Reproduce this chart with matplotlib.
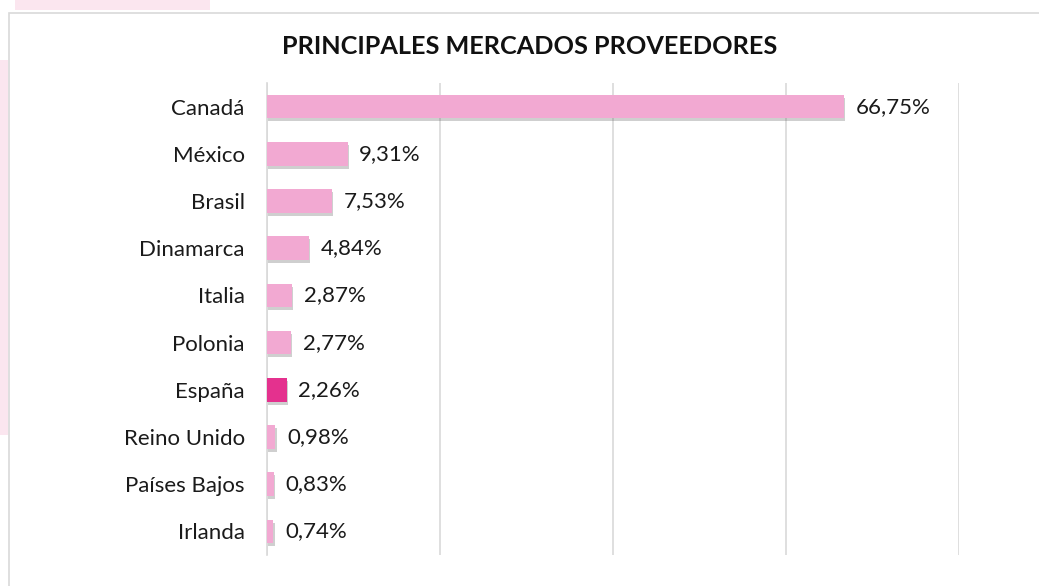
import matplotlib
matplotlib.use("Agg")
import matplotlib.pyplot as plt
import matplotlib.patheffects as pe
from matplotlib.patches import Rectangle

categories = ["Canadá", "México", "Brasil", "Dinamarca", "Italia", "Polonia",
              "España", "Reino Unido", "Países Bajos", "Irlanda"]
values = [66.75, 9.31, 7.53, 4.84, 2.87, 2.77, 2.26, 0.98, 0.83, 0.74]
highlight = "España"
title = "PRINCIPALES MERCADOS PROVEEDORES"

base_color = "#F2A9D2"
hi_color = "#E4318E"

plt.rcParams['font.family'] = ['Lato', 'DejaVu Sans']

fig = plt.figure(figsize=(10.39, 5.86), dpi=100)
W, H = 1039, 586

# faint pink background patches outside the chart frame
fig.patches.append(Rectangle((15 / W, 1 - 10 / H), 195 / W, 10 / H, transform=fig.transFigure,
                             facecolor="#FBE6EF", edgecolor="none", zorder=-3))
fig.patches.append(Rectangle((0, 1 - 435 / H), 8 / W, 375 / H, transform=fig.transFigure,
                             facecolor="#FBE6EF", edgecolor="none", zorder=-3))
# chart frame
fig.patches.append(Rectangle((8.5 / W, -0.01), 1.1, 1 - 12.5 / H + 0.01, transform=fig.transFigure,
                             facecolor="white", edgecolor="#D9D9D9", linewidth=1.2, zorder=-2))

ax = fig.add_axes([267 / W, 1 - 555 / H, (959 - 267) / W, (555 - 83) / H])
ax.set_facecolor("none")

y = list(range(len(categories)))
colors = [hi_color if c == highlight else base_color for c in categories]
bars = ax.barh(y, values, height=0.5, color=colors, zorder=3)
for b in bars:
    b.set_path_effects([pe.SimplePatchShadow(offset=(0.8, -2.2), shadow_rgbFace="#555555", alpha=0.28),
                        pe.Normal()])

for yi, v in zip(y, values):
    ax.text(v + 1.35, yi, f"{v:.2f}".replace(".", ",") + "%", va="center", ha="left",
            fontsize=16, color="#1a1a1a", zorder=4)

ax.set_xlim(0, 80)
ax.set_xticks([0, 20, 40, 60, 80])
ax.set_ylim(len(categories) - 0.5, -0.5)
ax.set_yticks(y)
ax.set_yticklabels(categories, fontsize=16, color="#1a1a1a")
ax.tick_params(axis='y', length=0, pad=16)
ax.tick_params(axis='x', length=0, labelbottom=False)
ax.grid(axis='x', color="#D9D9D9", linewidth=1.2, zorder=0)
for s in ["top", "right", "bottom"]:
    ax.spines[s].set_visible(False)
ax.spines["left"].set_color("#D9D9D9")
ax.spines["left"].set_linewidth(1.2)

fig.text(530 / W, 1 - 47 / H, title, ha="center", va="center", fontsize=18.2,
         fontweight="bold", color="#111111")

fig.savefig("out.png", dpi=100)
